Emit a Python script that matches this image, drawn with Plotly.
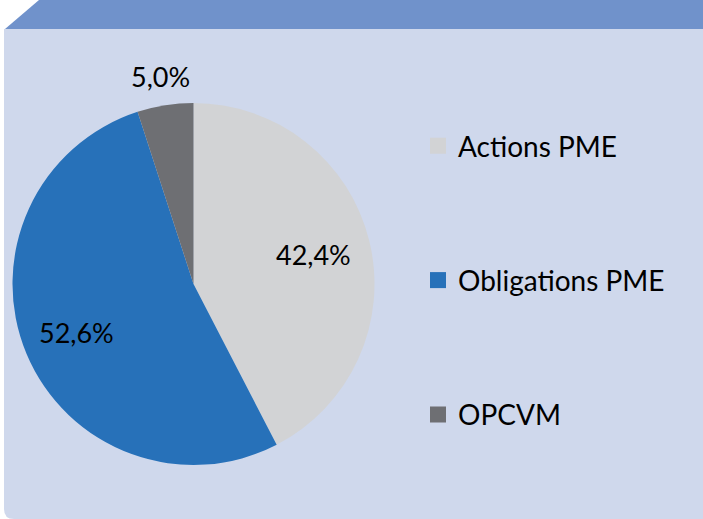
import math
import plotly.graph_objects as go

W, H = 703, 519

categories = ["Actions PME", "Obligations PME", "OPCVM"]
values = [42.4, 52.6, 5.0]
colors = ["#D2D3D5", "#2771B9", "#6E6F73"]
labels_text = [f"{v:.1f}".replace(".", ",") + "%" for v in values]
label_radius = [0.68, 0.70, 1.16]   # relative distance of each label from the centre

FONT = "Lato"

def px(x):
    return x / W

def py(y):
    return 1 - y / H

# pie geometry (pixels)
CX, CY, R = 193.5, 284.0, 181.0

fig = go.Figure()

fig.add_trace(go.Pie(
    labels=categories,
    values=values,
    textinfo="none",
    sort=False,
    direction="clockwise",
    rotation=0,
    marker=dict(colors=colors, line=dict(width=0)),
    domain=dict(x=[px(CX - R), px(CX + R)], y=[py(CY + R), py(CY - R)]),
    showlegend=False,
    hoverinfo="skip",
))

for i, (name, c) in enumerate(zip(categories, colors)):
    fig.add_trace(go.Scatter(
        x=[None], y=[None], mode="markers", name=name,
        legendgroup=f"g{i}",
        marker=dict(symbol="square", size=18, color=c),
    ))

# data labels placed along each slice's mid-angle
annotations = []
total = sum(values)
cum = 0.0
for v, t, lr in zip(values, labels_text, label_radius):
    mid = (cum + v / 2) / total * 2 * math.pi
    cum += v
    lx = CX + lr * R * math.sin(mid)
    ly = CY - lr * R * math.cos(mid)
    annotations.append(dict(
        x=px(lx), y=py(ly), xref="paper", yref="paper", text=t,
        showarrow=False, xanchor="center", yanchor="middle",
        font=dict(family=FONT, size=27, color="#000000"),
    ))

r = 10
light_path = (
    f"M {px(4)} {py(29)} L {px(703)} {py(29)} L {px(703)} {py(519)} "
    f"L {px(4 + r)} {py(519)} Q {px(4)} {py(519)} {px(4)} {py(519 - r)} Z"
)
dark_path = (
    f"M {px(5)} {py(29)} L {px(39)} {py(0)} L {px(703)} {py(0)} L {px(703)} {py(29)} Z"
)

fig.update_layout(
    width=W, height=H,
    margin=dict(l=0, r=0, t=0, b=0),
    paper_bgcolor="#FFFFFF",
    plot_bgcolor="rgba(0,0,0,0)",
    xaxis=dict(visible=False),
    yaxis=dict(visible=False),
    annotations=annotations,
    shapes=[
        dict(type="path", path=light_path, xref="paper", yref="paper",
             fillcolor="#CFD8EC", line=dict(width=0), layer="below"),
        dict(type="path", path=dark_path, xref="paper", yref="paper",
             fillcolor="#7092CB", line=dict(width=0), layer="below"),
    ],
    legend=dict(
        x=px(418), y=py(121), xanchor="left", yanchor="top",
        font=dict(family=FONT, size=28, color="#000000"),
        bgcolor="rgba(0,0,0,0)",
        tracegroupgap=95,
        itemclick=False, itemdoubleclick=False,
    ),
    showlegend=True,
)

fig.write_html("out.html")
